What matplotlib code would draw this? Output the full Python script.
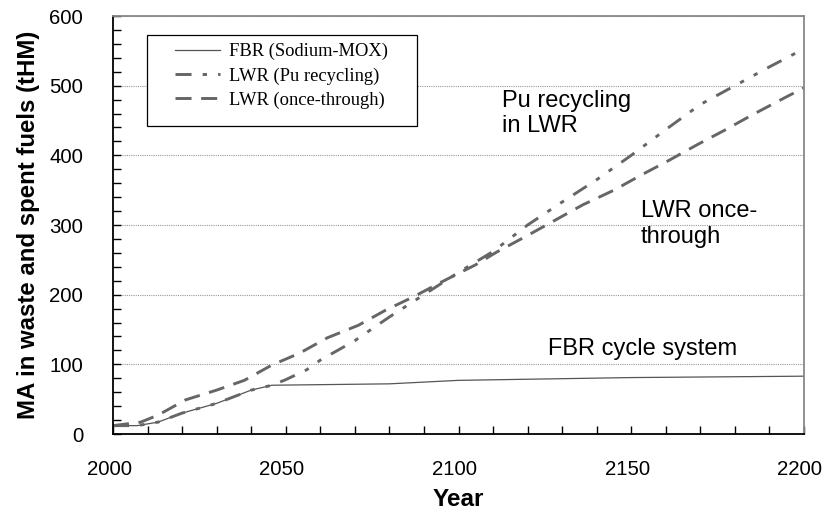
import numpy as np
import matplotlib.pyplot as plt
from matplotlib.ticker import MultipleLocator
from matplotlib.patches import Rectangle
from matplotlib.transforms import ScaledTranslation

# values (year, tHM)
fbr_year = [2000, 2007, 2013, 2020, 2030, 2040, 2046, 2080, 2100, 2150, 2200]
fbr_ma = [12, 12, 17, 30, 44, 63, 70, 72, 77, 81, 83]

pu_year = [2000, 2007, 2013, 2020, 2030, 2040, 2046, 2050, 2056, 2060, 2070, 2080,
           2090, 2100, 2110, 2120, 2130, 2140, 2150, 2160, 2170, 2180, 2190, 2200]
pu_ma = [12, 12, 17, 30, 44, 63, 70, 78, 92, 106, 134, 168,
         200, 232, 262, 300, 333, 365, 400, 437, 473, 500, 527, 553]

once_year = [2000, 2008, 2013, 2021, 2030, 2038, 2046, 2054, 2062, 2071, 2079,
             2087, 2095, 2105, 2111, 2120, 2128, 2136, 2145, 2153, 2161, 2169,
             2177, 2185, 2193, 2200]
once_ma = [12, 17, 27, 49, 63, 77, 99, 116, 138, 156, 178,
           197, 218, 243, 261, 285, 307, 329, 350, 372, 393, 415,
           436, 458, 479, 497]

grey = '#666666'
sans = 'Liberation Sans'

fig = plt.figure(figsize=(8.24, 5.11), dpi=100)
ax = fig.add_axes([113/824, 1-434/511, 691/824, 418/511])

ax.plot(fbr_year, fbr_ma, color='#555555', lw=0.9, label='FBR (Sodium-MOX)')
ax.plot(pu_year, pu_ma, color=grey, lw=2.1, dashes=(5.5, 3.8, 1.5, 3.8, 1.5, 3.8),
        label='LWR (Pu recycling)')
ax.plot(once_year, once_ma, color=grey, lw=2.1, dashes=(5.5, 3.3),
        label='LWR (once-through)')

ax.set_xlim(2000, 2200)
ax.set_ylim(0, 600)
ax.xaxis.set_major_locator(MultipleLocator(50))
ax.xaxis.set_minor_locator(MultipleLocator(10))
ax.yaxis.set_major_locator(MultipleLocator(100))
ax.yaxis.set_minor_locator(MultipleLocator(20))
ax.tick_params(which='both', direction='in', length=5.5, width=1, labelsize=14.7)
ax.tick_params(axis='x', pad=18.5)
ax.tick_params(axis='y', pad=21.5)
ax.grid(axis='y', which='major', color='#999999', ls=(0, (1, 1)), lw=0.8)
for s in ax.spines.values():
    s.set_linewidth(1.3)
ax.spines['right'].set_color('#888888')
ax.spines['top'].set_color('#888888')

# year labels sit a little left of their ticks in the original
shift = ScaledTranslation(-4/100, 0, fig.dpi_scale_trans)
for t in ax.get_xticklabels():
    t.set_family(sans)
    t.set_transform(t.get_transform() + shift)
for t in ax.get_yticklabels():
    t.set_family(sans)

ax.set_xlabel('Year', fontsize=17.5, fontweight='bold', family=sans, va='baseline')
ax.xaxis.set_label_coords(0.5, -0.172)
ax.set_ylabel('MA in waste and spent fuels (tHM)', fontsize=17.3, fontweight='bold',
              family=sans, va='center')
ax.yaxis.set_label_coords(-0.122, 0.5)

notes = [(2112.5, 469.4, 'Pu recycling'), (2112.5, 433.5, 'in LWR'),
         (2152.8, 311.5, 'LWR once-'), (2152.8, 274, 'through'),
         (2125.8, 113.4, 'FBR cycle system')]
for x, y, s in notes:
    ax.text(x, y, s, fontsize=17, family=sans, va='baseline')

# legend frame drawn separately, it is wider than it is tall
ax.add_patch(Rectangle((0.0493, 0.737), 0.391, 0.2177, transform=ax.transAxes,
                       fill=True, facecolor='white', edgecolor='black', lw=0.9, zorder=4))
leg = ax.legend(loc='upper left', bbox_to_anchor=(175/824, 1-43/511),
                bbox_transform=fig.transFigure, frameon=False,
                prop={'family': 'Liberation Serif', 'size': 13.3},
                handlelength=2.45, handletextpad=0.45, borderpad=0, borderaxespad=0,
                labelspacing=0.38)
leg.set_zorder(5)

fig.savefig('out.png', dpi=100)
